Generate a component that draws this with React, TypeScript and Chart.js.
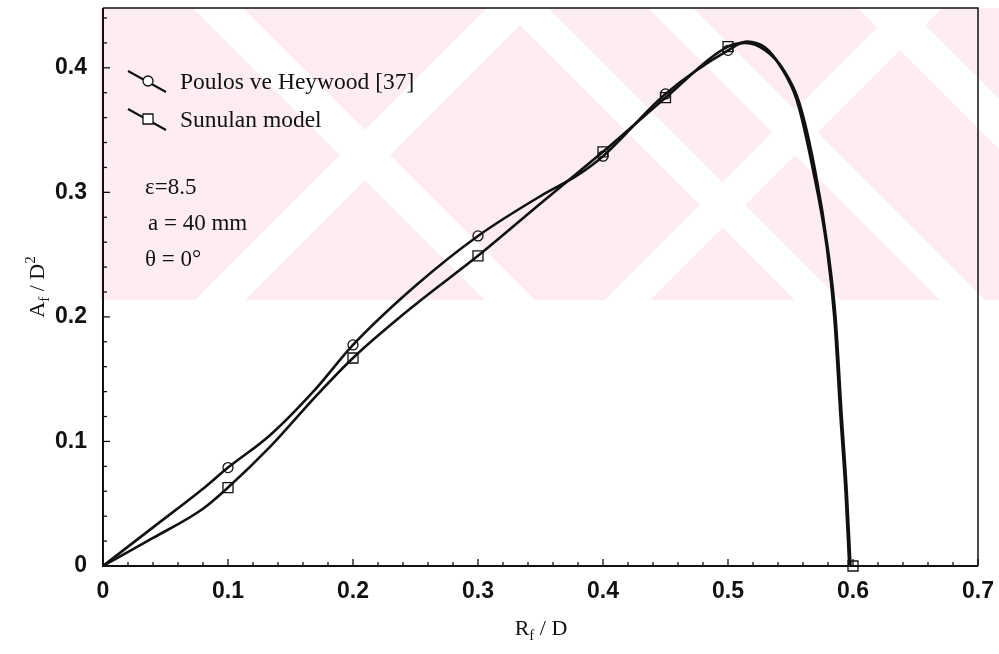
import React, { useEffect, useRef } from 'react';
import { Chart, registerables } from 'chart.js';
Chart.register(...registerables);

// markers
const poulosMarkX = [0.1, 0.2, 0.3, 0.4, 0.45, 0.5];
const poulosMarkY = [0.079, 0.1775, 0.265, 0.329, 0.379, 0.414];
const modelMarkX = [0.1, 0.2, 0.3, 0.4, 0.45, 0.5, 0.6];
const modelMarkY = [0.063, 0.167, 0.249, 0.3325, 0.376, 0.417, 0];

// curves
const poulosCurveX = [0, 0.04, 0.08, 0.1, 0.1336, 0.17, 0.2, 0.25, 0.3, 0.35, 0.38, 0.4, 0.45, 0.5, 0.515, 0.53, 0.542, 0.555, 0.568, 0.579, 0.585, 0.59, 0.594, 0.597];
const poulosCurveY = [0, 0.031, 0.062, 0.079, 0.105, 0.142, 0.1775, 0.225, 0.265, 0.297, 0.314, 0.329, 0.379, 0.414, 0.421, 0.416, 0.401, 0.374, 0.318, 0.256, 0.2, 0.12, 0.06, 0];
const modelCurveX = [0, 0.04, 0.08, 0.1, 0.1336, 0.17, 0.2, 0.25, 0.3, 0.35, 0.38, 0.4, 0.45, 0.5, 0.514, 0.53, 0.544, 0.557, 0.57, 0.58, 0.586, 0.591, 0.595, 0.598];
const modelCurveY = [0, 0.0225, 0.046, 0.063, 0.0956, 0.136, 0.167, 0.21, 0.249, 0.291, 0.316, 0.3325, 0.376, 0.417, 0.42, 0.414, 0.399, 0.372, 0.316, 0.254, 0.2, 0.12, 0.06, 0];

const xTickValues = [0, 0.1, 0.2, 0.3, 0.4, 0.5, 0.6, 0.7];
const yTickValues = [0, 0.1, 0.2, 0.3, 0.4];
const legendLabels = ['Poulos ve Heywood [37]', 'Sunulan model'];
const noteLines = ['ε=8.5', 'a = 40 mm', 'θ = 0°'];

const pts = (xs: number[], ys: number[]) => xs.map((x, i) => ({ x, y: ys[i] }));

const SERIF = '"Liberation Serif", "Times New Roman", serif';
const SANS = '"Liberation Sans", Arial, sans-serif';

function drawMarker(ctx: CanvasRenderingContext2D, kind: string, x: number, y: number) {
  ctx.save();
  ctx.strokeStyle = '#111';
  ctx.lineWidth = 1.3;
  ctx.beginPath();
  if (kind === 'circle') ctx.arc(x, y, 5, 0, Math.PI * 2);
  else ctx.rect(x - 5, y - 5, 10, 10);
  ctx.stroke();
  ctx.restore();
}

const decor = {
  id: 'decor',
  beforeDraw(chart: any) {
    const { ctx } = chart;
    ctx.save();
    ctx.fillStyle = '#fff';
    ctx.fillRect(0, 0, chart.width, chart.height);
    // faint watermark band
    ctx.beginPath();
    ctx.rect(100, 8, 899, 292);
    ctx.clip();
    ctx.fillStyle = 'rgb(253,236,240)';
    ctx.fillRect(100, 8, 899, 292);
    ctx.fillStyle = '#fff';
    const slash = [[495, 545], [905, 950]];
    const back = [[185, 235], [495, 540], [640, 685], [850, 900]];
    for (const [c1, c2] of slash) {
      ctx.beginPath();
      ctx.moveTo(c1, 0); ctx.lineTo(c2, 0); ctx.lineTo(c2 - 400, 400); ctx.lineTo(c1 - 400, 400);
      ctx.closePath(); ctx.fill();
    }
    for (const [d1, d2] of back) {
      ctx.beginPath();
      ctx.moveTo(d1, 0); ctx.lineTo(d2, 0); ctx.lineTo(d2 + 400, 400); ctx.lineTo(d1 + 400, 400);
      ctx.closePath(); ctx.fill();
    }
    ctx.restore();
  },
  afterDraw(chart: any) {
    const { ctx, chartArea: a, scales } = chart;
    const xs = scales.x, ys = scales.y;
    ctx.save();
    ctx.strokeStyle = '#111';
    // frame
    ctx.lineWidth = 2;
    ctx.beginPath();
    ctx.moveTo(a.left, a.top); ctx.lineTo(a.left, a.bottom); ctx.lineTo(a.right, a.bottom);
    ctx.stroke();
    ctx.lineWidth = 1.5;
    ctx.beginPath();
    ctx.moveTo(a.left, a.top); ctx.lineTo(a.right, a.top); ctx.lineTo(a.right, a.bottom);
    ctx.stroke();
    // inward ticks
    ctx.lineWidth = 1.3;
    for (let i = 0; i <= 35; i++) {
      const px = xs.getPixelForValue(i * 0.02);
      const len = i % 5 === 0 ? 7 : 4;
      ctx.beginPath(); ctx.moveTo(px, a.bottom); ctx.lineTo(px, a.bottom - len); ctx.stroke();
    }
    for (let i = 0; i <= 22; i++) {
      const py = ys.getPixelForValue(i * 0.02);
      const len = i % 5 === 0 ? 7 : 4;
      ctx.beginPath(); ctx.moveTo(a.left, py); ctx.lineTo(a.left + len, py); ctx.stroke();
    }
    // markers
    chart.data.datasets.forEach((ds: any) => {
      if (!ds.markerKind) return;
      ds.markerPts.forEach((p: any) => drawMarker(ctx, ds.markerKind, xs.getPixelForValue(p.x), ys.getPixelForValue(p.y)));
    });
    // legend
    ctx.fillStyle = '#111';
    ctx.textBaseline = 'middle';
    ctx.textAlign = 'left';
    const kinds = ['circle', 'square'];
    legendLabels.forEach((lab, i) => {
      const cy = 81 + i * 38;
      ctx.lineWidth = 2;
      ctx.beginPath(); ctx.moveTo(128, cy - 10); ctx.lineTo(166, cy + 11); ctx.stroke();
      ctx.fillStyle = '#fff';
      ctx.beginPath();
      if (kinds[i] === 'circle') ctx.arc(148, cy, 5, 0, Math.PI * 2); else ctx.rect(143, cy - 5, 10, 10);
      ctx.fill();
      ctx.fillStyle = '#111';
      drawMarker(ctx, kinds[i], 148, cy);
      ctx.font = `23.5px ${SERIF}`;
      ctx.fillText(lab, 180, cy + 2);
    });
    // notes
    ctx.font = `23px ${SERIF}`;
    noteLines.forEach((t, i) => ctx.fillText(t, 145 + (i === 1 ? 3 : 0), 188 + i * 36));
    // axis titles
    ctx.textBaseline = 'alphabetic';
    const drawTitle = (base: string, sub: string, rest: string, sup: string, x: number, y: number) => {
      ctx.font = `22px ${SERIF}`;
      const w1 = ctx.measureText(base).width;
      ctx.font = `15px ${SERIF}`;
      const w2 = ctx.measureText(sub).width;
      ctx.font = `22px ${SERIF}`;
      const w3 = ctx.measureText(rest).width;
      ctx.font = `15px ${SERIF}`;
      const w4 = sup ? ctx.measureText(sup).width : 0;
      let cx = x - (w1 + w2 + w3 + w4) / 2;
      ctx.font = `22px ${SERIF}`; ctx.fillText(base, cx, y); cx += w1;
      ctx.font = `15px ${SERIF}`; ctx.fillText(sub, cx, y + 5); cx += w2;
      ctx.font = `22px ${SERIF}`; ctx.fillText(rest, cx, y); cx += w3;
      if (sup) { ctx.font = `15px ${SERIF}`; ctx.fillText(sup, cx, y - 9); }
    };
    drawTitle('R', 'f', ' / D', '', 541, 635);
    ctx.save();
    ctx.translate(44, 287);
    ctx.rotate(-Math.PI / 2);
    drawTitle('A', 'f', ' / D', '2', 0, 0);
    ctx.restore();
    ctx.restore();
  },
};

export default function App() {
  const ref = useRef<HTMLCanvasElement>(null);
  useEffect(() => {
    document.body.style.margin = '0';
    const line = (label: string, xs: number[], ys: number[]) => ({
      label, data: pts(xs, ys), showLine: true, borderColor: '#111', borderWidth: 2.6,
      pointRadius: 0, cubicInterpolationMode: 'monotone' as const, fill: false,
    });
    const chart = new Chart(ref.current!, {
      type: 'scatter',
      data: {
        datasets: [
          line(legendLabels[0], poulosCurveX, poulosCurveY),
          line(legendLabels[1], modelCurveX, modelCurveY),
          { label: 'm1', data: [], markerKind: 'circle', markerPts: pts(poulosMarkX, poulosMarkY) } as any,
          { label: 'm2', data: [], markerKind: 'square', markerPts: pts(modelMarkX, modelMarkY) } as any,
        ],
      },
      options: {
        animation: false,
        responsive: true,
        maintainAspectRatio: false,
        layout: { padding: { top: 8, right: 21, left: 0, bottom: 0 } },
        plugins: { legend: { display: false }, tooltip: { enabled: false } },
        scales: {
          x: {
            type: 'linear', min: 0, max: 0.7,
            afterFit: (s: any) => { s.height = 88; s.paddingLeft = 0; s.paddingRight = 0; },
            afterBuildTicks: (s: any) => { s.ticks = xTickValues.map((v) => ({ value: v })); },
            grid: { display: false, drawTicks: false },
            border: { display: false },
            ticks: { padding: 12, color: '#111', font: { family: SANS, size: 23, weight: 'bold' }, callback: (v: any) => String(+(+v).toFixed(1)) },
          },
          y: {
            type: 'linear', min: 0, max: 0.448,
            afterFit: (s: any) => { s.width = 103; s.paddingTop = 0; s.paddingBottom = 0; },
            afterBuildTicks: (s: any) => { s.ticks = yTickValues.map((v) => ({ value: v })); },
            grid: { display: false, drawTicks: false },
            border: { display: false },
            ticks: { padding: 16, color: '#111', font: { family: SANS, size: 23, weight: 'bold' }, callback: (v: any) => String(+(+v).toFixed(1)) },
          },
        },
      },
      plugins: [decor],
    });
    return () => chart.destroy();
  }, []);
  return (
    <div style={{ position: 'fixed', left: 0, top: 0, width: 999, height: 654 }}>
      <canvas ref={ref} />
    </div>
  );
}
